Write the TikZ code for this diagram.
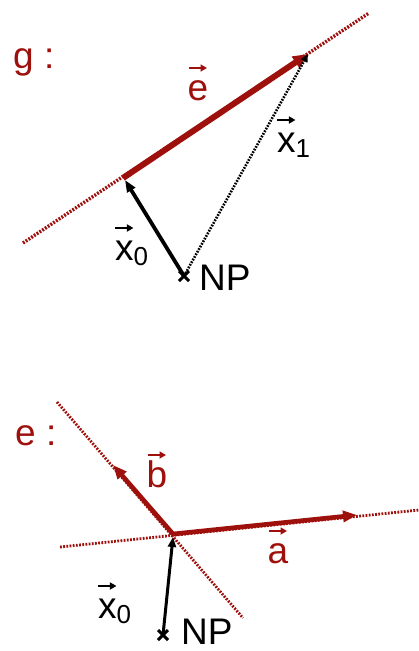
\documentclass[tikz,border=0pt]{standalone}
\usepackage{fontspec}
\setmainfont{Liberation Sans}
\usetikzlibrary{arrows.meta,shapes.misc}
\definecolor{dred}{RGB}{158,16,12}
\newcommand\varr{\tikz[baseline=0pt]\draw[line width=1.9pt,-{Triangle[length=6.5pt,width=7pt]}] (0pt,0pt)--(18pt,0pt);}
\newcommand\vl[1]{\ooalign{#1\cr\hidewidth\raisebox{32pt}{\varr}\hidewidth\cr}}
\newcommand\subs[1]{\raisebox{-5pt}{\fontsize{26}{26}\selectfont #1}}
\begin{document}
\begin{tikzpicture}[x=1pt,y=-1pt,
  lab/.style={inner sep=0pt, font=\fontsize{37}{40}\selectfont},
  redlab/.style={lab, text=dred},
  reddot/.style={draw=dred, line width=3.4pt, dash pattern=on 1.9pt off 1.4pt},
  reddotthin/.style={draw=dred, line width=2.8pt, dash pattern=on 1.8pt off 1.4pt},
  blkdot/.style={draw=black, line width=2.6pt, dash pattern=on 1.7pt off 1.3pt, -{Triangle[length=8pt,width=7pt]}},
  evec/.style={draw=dred, line width=6pt, -{Triangle[length=15pt,width=13pt]}},
  abvec/.style={draw=dred, line width=4.6pt, -{Triangle[length=14pt,width=11pt]}},
  xvec/.style={draw=black, line width=3.8pt, -{Triangle[length=12pt,width=9pt]}},
  xvecb/.style={draw=black, line width=3pt, -{Triangle[length=10pt,width=8pt]}},
  npmark/.style={cross out, draw=black, line width=3pt, minimum size=10pt, inner sep=0pt, outer sep=0pt}]
\useasboundingbox (0,0) rectangle (419,651);
% ---------- top panel ----------
\coordinate (g1) at (23,243);
\coordinate (g2) at (369,13);
\coordinate (P0) at (123,178);
\coordinate (P0t) at (125,180);
\coordinate (P1) at (308,54);
\node[npmark] (np1) at (184,276) {};
\draw[reddot] (g1) -- (g2);
\draw[evec] (P0) -- (P1);
\draw[xvec] (np1.center) -- (P0t);
\draw[blkdot] (np1.center) -- (P1);
\node[redlab, anchor=base west] (gl) at (13,68) {g :};
\node[redlab, anchor=base] (el) at (198,100) {\vl{e}};
\node[lab, anchor=base west] (x1l) at (277,152) {\vl{x}\subs{1}};
\node[lab, anchor=base west] (x0l) at (115,260) {\vl{x}\subs{0}};
\node[lab, anchor=base west] (npl1) at (199,290) {NP};
% ---------- bottom panel ----------
\coordinate (a1) at (60,547);
\coordinate (a2) at (419,510);
\coordinate (b1) at (57,402);
\coordinate (b2) at (243,618);
\coordinate (Q) at (173,534);
\coordinate (Qt) at (173,537);
\coordinate (A) at (357,515);
\coordinate (B) at (113,465);
\node[npmark] (np2) at (163,635) {};
\draw[reddotthin] (a1) -- (a2);
\draw[reddotthin] (b1) -- (b2);
\draw[abvec] (Q) -- (A);
\draw[abvec] (Q) -- (B);
\draw[xvecb] (np2.center) -- (Qt);
\node[redlab, anchor=base west] (el2) at (15,445) {e :};
\node[redlab, anchor=base] (bl) at (157,487) {\vl{b}};
\node[redlab, anchor=base] (al) at (278,563) {\vl{a}};
\node[lab, anchor=base west] (x0l2) at (98,618) {\vl{x}\subs{0}};
\node[lab, anchor=base west] (npl2) at (181,644) {NP};
\end{tikzpicture}
\end{document}
